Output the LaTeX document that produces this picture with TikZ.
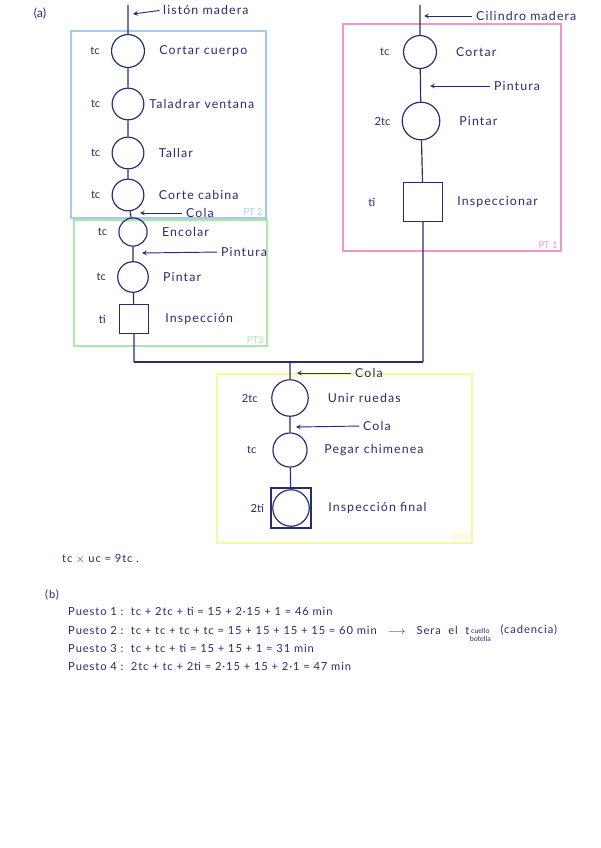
\documentclass[tikz,border=0pt]{standalone}
\usepackage{fontspec}
\setmainfont{Lato}
\usetikzlibrary{positioning}

\definecolor{ink}{RGB}{38,44,112}
\definecolor{ptblue}{RGB}{160,204,240}
\definecolor{ptpink}{RGB}{240,150,200}
\definecolor{ptgreen}{RGB}{170,232,170}
\definecolor{ptyellow}{RGB}{248,246,160}

\tikzset{
  op/.style={circle, draw=ink, line width=1pt, minimum size=28pt, inner sep=0pt},
  insp/.style={rectangle, draw=ink, line width=1pt, minimum size=24pt, inner sep=0pt},
  tlab/.style={text=ink, font=\fontsize{9.5}{10}\selectfont},
  slab/.style={text=ink, font=\fontsize{10.5}{12}\selectfont\addfontfeature{LetterSpace=9}, inner sep=0pt},
  feed/.style={->, draw=ink, line width=0.8pt, shorten <=3pt},
  zone/.style={line width=1.1pt},
  ptlab/.style={font=\fontsize{8}{9}\selectfont, anchor=south east, inner sep=1pt},
  calc/.style={text=ink, font=\fontsize{9.5}{10}\selectfont\addfontfeature{LetterSpace=8}, anchor=west, inner sep=0pt}
}

\begin{document}
\begin{tikzpicture}[x=0.85pt,y=-0.85pt,>=stealth,node distance=10pt]
\useasboundingbox (0,0) rectangle (600,848);

% zonas de trabajo
\draw[zone, ptblue] (71,31) rectangle (266,218);
\node[ptlab, text=ptblue] at (264,217) {PT 2};
\draw[zone, ptgreen] (74,220) rectangle (267,346);
\node[ptlab, text=ptgreen] at (265,345) {PT3};
\draw[zone, ptpink] (343,24) rectangle (561,251);
\node[ptlab, text=ptpink] at (559,250) {PT 1};
\draw[zone, ptyellow] (217,374) rectangle (472,543);
\node[ptlab, text=ptyellow] at (470,542) {PT4};

\node[text=ink, font=\fontsize{10.5}{12}\selectfont] (a) at (40,14) {(a)};

% linea izquierda
\coordinate (ltop) at (128,5);
\node[op] (c1) at (128,51) {};
\node[op, minimum size=27pt] (c2) at (128,104) {};
\node[op, minimum size=27pt] (c3) at (128,153) {};
\node[op, minimum size=27pt] (c4) at (128,195) {};
\node[op, minimum size=24pt] (c5) at (133,232) {};
\node[op, minimum size=26pt] (c6) at (133,277) {};
\node[insp] (s1) at (134,319) {};
\coordinate (lbot) at (134,362);

\node[tlab, left=6pt of c1] {tc};
\node[tlab, left=6pt of c2] {tc};
\node[tlab, left=6pt of c3] {tc};
\node[tlab, left=6pt of c4] {tc};
\node[tlab, left=6pt of c5] {tc};
\node[tlab, left=6pt of c6] {tc};
\node[tlab, left=8pt of s1] {ti};

\node[slab, right=12pt of c1] {Cortar cuerpo};
\node[slab, right=4pt of c2] {Taladrar ventana};
\node[slab, right=12pt of c3] {Tallar};
\node[slab, right=12pt of c4] {Corte cabina};
\node[slab, right=12pt of c5] {Encolar};
\node[slab, right=12pt of c6] {Pintar};
\node[slab, right=14pt of s1] {Inspección};

\draw[ink, line width=1pt] (ltop) -- (c1) -- (c2) -- (c3) -- (c4) -- (c5) -- (c6) -- (s1) -- (lbot);

\node[slab, anchor=west] (liston) at (163,10) {listón madera};
\coordinate (listonend) at (133,14);
\draw[feed] (liston.west) -- (listonend);
\node[slab, anchor=west] (cola1) at (186,213) {Cola};
\coordinate (cola1end) at (140,213);
\draw[feed] (cola1.west) -- (cola1end);
\node[slab, anchor=west] (pint3) at (221,252) {Pintura};
\coordinate (pint3end) at (142,253);
\draw[feed] (pint3.west) -- (pint3end);

% linea derecha
\coordinate (rtop) at (420,5);
\node[op] (d1) at (420,52) {};
\node[op, minimum size=32pt] (d2) at (421,121) {};
\node[insp, minimum size=33pt] (s2) at (423,202) {};
\coordinate (rbot) at (423,362);

\node[tlab, left=8pt of d1] {tc};
\node[tlab, left=6pt of d2] {2tc};
\node[tlab, left=20pt of s2] {ti};
\node[slab, right=16pt of d1] {Cortar};
\node[slab, right=16pt of d2] {Pintar};
\node[slab, right=12pt of s2] {Inspeccionar};

\draw[ink, line width=1pt] (rtop) -- (d1) -- (d2) -- (s2) -- (rbot);

\node[slab, anchor=west] (cil) at (476,16) {Cilindro madera};
\coordinate (cilend) at (424,16);
\draw[feed] (cil.west) -- (cilend);
\node[slab, anchor=west] (pint1) at (494,86) {Pintura};
\coordinate (pint1end) at (430,86);
\draw[feed] (pint1.west) -- (pint1end);

% union y montaje final
\coordinate (junta) at (290,362);
\draw[ink, line width=1pt] (lbot) -- (rbot);
\node[op, minimum size=31pt] (e1) at (290,398) {};
\node[op, minimum size=29pt] (e2) at (290,450) {};
\node[insp, minimum size=34pt] (s3) at (291,508) {};
\node[op, minimum size=31pt] (e3) at (291,508) {};

\node[tlab, left=8pt of e1] {2tc};
\node[tlab, left=10pt of e2] {tc};
\node[tlab, left=2pt of s3] {2ti};
\node[slab, right=16pt of e1] {Unir ruedas};
\node[slab, right=14pt of e2] {Pegar chimenea};
\node[slab, right=14pt of s3] {Inspección final};

\draw[ink, line width=1pt] (junta) -- (e1) -- (e2) -- (s3);

\node[slab, anchor=west] (cola2) at (355,373) {Cola};
\coordinate (cola2end) at (297,373);
\draw[feed] (cola2.west) -- (cola2end);
\node[slab, anchor=west] (cola3) at (363,426) {Cola};
\coordinate (cola3end) at (296,427);
\draw[feed] (cola3.west) -- (cola3end);

% calculos
\node[calc] (uc) at (62,559) {tc $\times$ uc = 9tc .};
\node[calc] (b) at (45,595) {(b)};
\node[calc] (p1) at (68,611) {Puesto 1 :\ \ tc + 2tc + ti = 15 + 2·15 + 1 = 46 min};
\node[calc] (p2) at (68,630) {Puesto 2 :\ \ tc + tc + tc + tc = 15 + 15 + 15 + 15 = 60 min \ \ $\longrightarrow$\ \ \ Sera\ \ el\ \ t};
\node[calc, font=\fontsize{6}{6.5}\selectfont, align=center, anchor=north west] (cb) at (p2.east |- 0,628) {cuello\\botella};
\node[calc, right=8pt of cb.east |- p2.east] (cad) {(cadencia)};
\node[calc] (p3) at (68,648) {Puesto 3 :\ \ tc + tc + ti = 15 + 15 + 1 = 31 min};
\node[calc] (p4) at (68,666) {Puesto 4 :\ \ 2tc + tc + 2ti = 2·15 + 15 + 2·1 = 47 min};
\end{tikzpicture}
\end{document}
